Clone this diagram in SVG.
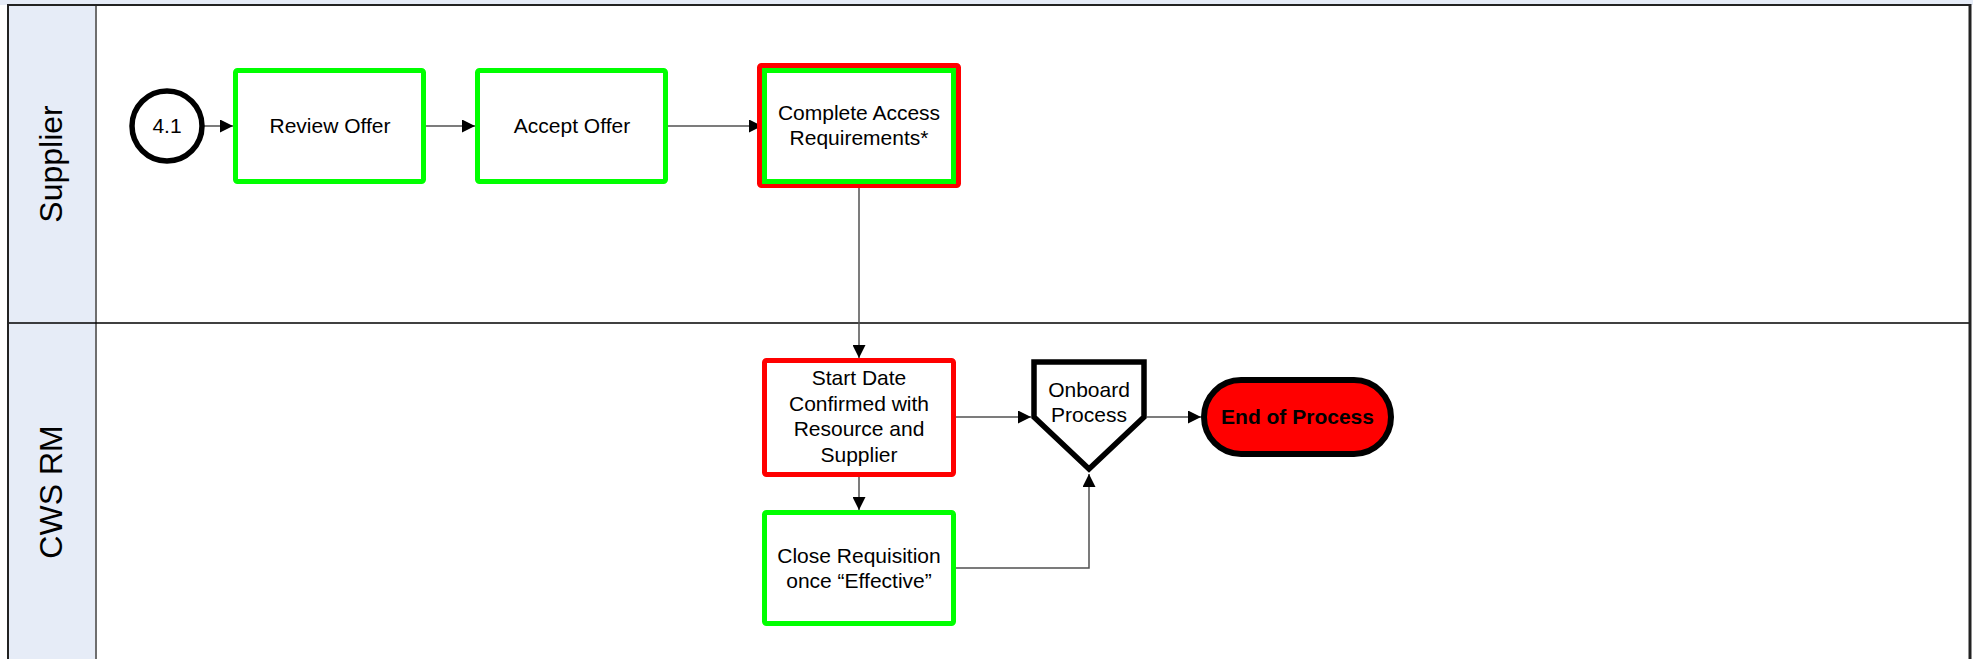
<svg xmlns="http://www.w3.org/2000/svg" width="1973" height="659" viewBox="0 0 1973 659">
<style>
text{font-family:"Liberation Sans",Arial,sans-serif;font-size:21px;fill:#000;text-anchor:middle}
.lane{font-size:32px}
.g{fill:#fff;stroke:#00ff00;stroke-width:5}
.r{fill:#fff;stroke:#ff0000;stroke-width:5}
.c{fill:none;stroke:#505050;stroke-width:1.5}
.b{font-weight:bold}
</style>
<defs>
<marker id="ah" markerUnits="userSpaceOnUse" markerWidth="14" markerHeight="13" refX="13" refY="6.5" orient="auto">
<path d="M0,0 L13,6.5 L0,13 Z" fill="#000"/>
</marker>
</defs>
<g id="pool">
<rect x="0" y="0" width="1973" height="5" fill="#e6ecf7"/>
<rect x="8" y="5" width="88" height="654" fill="#e6ecf7"/>
<rect x="96" y="5" width="1874" height="654" fill="#fff"/>
<line x1="96" y1="5" x2="96" y2="659" stroke="#6e6e6e" stroke-width="2"/>
<line x1="8" y1="323" x2="1970" y2="323" stroke="#000" stroke-width="1.5"/>
<line x1="8" y1="5" x2="1970" y2="5" stroke="#222" stroke-width="2"/>
<line x1="8" y1="4" x2="8" y2="659" stroke="#222" stroke-width="2"/>
<line x1="1970" y1="4" x2="1970" y2="659" stroke="#222" stroke-width="3"/>
</g>
<g id="lane-supplier"><text class="lane" transform="translate(62,164) rotate(-90)">Supplier</text></g>
<g id="lane-cwsrm"><text class="lane" transform="translate(62,492) rotate(-90)">CWS RM</text></g>
<g id="connectors">
<line class="c" x1="203" y1="126" x2="233" y2="126" marker-end="url(#ah)"/>
<line class="c" x1="426" y1="126" x2="475" y2="126" marker-end="url(#ah)"/>
<line class="c" x1="668" y1="126" x2="762" y2="126" marker-end="url(#ah)"/>
<line class="c" x1="859" y1="188" x2="859" y2="358" marker-end="url(#ah)"/>
<line class="c" x1="859" y1="477" x2="859" y2="510" marker-end="url(#ah)"/>
<line class="c" x1="956" y1="417" x2="1031" y2="417" marker-end="url(#ah)"/>
<line class="c" x1="1147" y1="417" x2="1201" y2="417" marker-end="url(#ah)"/>
<polyline class="c" points="956,568 1089,568 1089,474" marker-end="url(#ah)"/>
</g>
<g id="n41">
<circle cx="167" cy="126" r="35" fill="#fff" stroke="#000" stroke-width="5.5"/>
<text x="167" y="133">4.1</text>
</g>
<g id="review-offer">
<rect class="g" x="235.5" y="70.5" width="188" height="111" rx="2"/>
<text x="330" y="133">Review Offer</text>
</g>
<g id="accept-offer">
<rect class="g" x="477.5" y="70.5" width="188" height="111" rx="2"/>
<text x="572" y="133">Accept Offer</text>
</g>
<g id="complete-access">
<rect class="r" x="759.5" y="65.5" width="199" height="120" rx="2"/>
<rect class="g" x="764.5" y="70.5" width="189" height="111"/>
<text x="859" y="120">Complete Access</text>
<text x="859" y="145">Requirements*</text>
</g>
<g id="start-date">
<rect class="r" x="764.5" y="360.5" width="189" height="114" rx="2"/>
<text x="859" y="385">Start Date</text>
<text x="859" y="410.5">Confirmed with</text>
<text x="859" y="436">Resource and</text>
<text x="859" y="461.5">Supplier</text>
</g>
<g id="close-req">
<rect class="g" x="764.5" y="512.5" width="189" height="111" rx="2"/>
<text x="859" y="562.5">Close Requisition</text>
<text x="859" y="587.5">once “Effective”</text>
</g>
<g id="onboard">
<path d="M1034,362 L1144,362 L1144,417 L1089,469 L1034,417 Z" fill="#fff" stroke="#000" stroke-width="5.5" stroke-linejoin="miter"/>
<text x="1089" y="397">Onboard</text>
<text x="1089" y="422">Process</text>
</g>
<g id="end">
<rect x="1204" y="380" width="187" height="74" rx="37" fill="#ff0000" stroke="#000" stroke-width="6"/>
<text class="b" x="1297.5" y="424">End of Process</text>
</g>
</svg>
